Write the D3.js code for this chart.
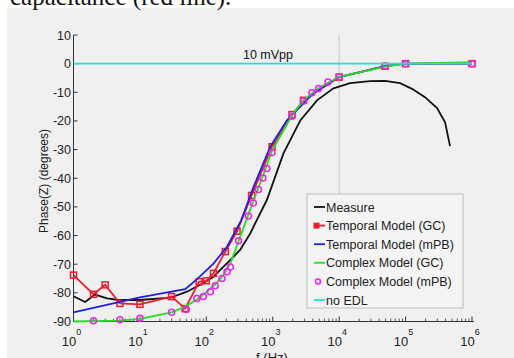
<!DOCTYPE html>
<html><head><meta charset="utf-8">
<script src="https://cdn.jsdelivr.net/npm/d3@7"></script>
<style>html,body{margin:0;padding:0;background:#fff;}svg{display:block;}</style>
</head><body>
<svg id="c" width="514" height="358"></svg>
<script>
// ---- data ----
const measureF = [1,1.5,2.1,3.2,4.8,10,29,51,81,127,162,254,322,460,575,815,1450,2600,4640,8200,14600,29200,49000,82600,125000,196000,298000,393000,467000];
const measureP = [-81.2,-83.2,-80.6,-81.9,-82.5,-82.5,-81.7,-79.6,-77.2,-74.5,-72,-67.5,-65,-59.2,-54.6,-47.6,-31.3,-19.8,-12.8,-8.6,-6.8,-6.1,-6.0,-6.8,-8.8,-11.7,-15.5,-20.5,-28.8];
const tempGCF = [1,2,3,5,10,30,48,78,100,128,193,290,480,975,1950,2900,10000,49000,100000,1000000];
const tempGCP = [-73.8,-80.5,-77.2,-83.7,-84,-81.3,-85.5,-76.1,-75.8,-73.2,-65.6,-58.5,-46,-29,-17.8,-12.8,-4.7,-0.9,0,0];
const tempPBF = [1,10,48,72,129,205,336,514,917,1636,4060,9660,49200,100000,1000000];
const tempPBP = [-86.8,-81.6,-78.7,-75.3,-69.7,-63.9,-54.6,-43,-29,-19.8,-10.4,-4.8,-0.9,0,0];
const compGCF = [1,5,10,30,48,72,100,136,172,228,305,410,510,690,975,1950,2900,4900,10000,49000,100000,1000000];
const compGCP = [-90,-89.7,-89.1,-86.8,-84.8,-82.3,-79.8,-77,-74.5,-70,-62,-54,-48,-40,-30.5,-18,-12.8,-8.5,-4.6,-1.0,0,0.5];
const compPBF = [2,5,10,30,50,72,90,115,136,172,205,230,305,430,510,610,710,815,975,1950,2900,3900,4900,6800,10000,49000,100000,1000000];
const compPBP = [-89.7,-89.4,-88.9,-86.8,-85.8,-82,-81.3,-79.6,-77.5,-75,-72.6,-71,-61.8,-53.2,-48.6,-43.9,-39.9,-36.6,-31,-18.4,-13,-10.2,-8.7,-6.4,-4.7,-0.9,0,0];
const noEdlF = [1,1000000];
const noEdlP = [0,0];
const xDecades = [0,1,2,3,4,5,6];
const yTicks = [10,0,-10,-20,-30,-40,-50,-60,-70,-80,-90];
const legendLabels = ["Measure","Temporal Model (GC)","Temporal Model (mPB)","Complex Model (GC)","Complex Model (mPB)","no EDL"];

// ---- drawing ----
const svg = d3.select("#c");
const font = "'Liberation Sans', Arial, sans-serif";
svg.append("rect").attr("x",7).attr("y",8).attr("width",507).attr("height",350).attr("fill","#f0f0f0");
svg.append("text").attr("x",10).attr("y",5).attr("font-family","'Liberation Serif', serif").attr("font-size",25).attr("fill","#111").text("capacitance (red line).");

const x = d3.scaleLog().domain([1,1e6]).range([73.5,472]);
const y = d3.scaleLinear().domain([-90,10]).range([321.5,35]);

// faint vertical line at 1e4
svg.append("line").attr("x1",x(1e4)).attr("x2",x(1e4)).attr("y1",y(10)).attr("y2",194).attr("stroke","#c8c8c8").attr("stroke-width",1);

// axes
const axisColor = "#333";
svg.append("line").attr("x1",x(1)).attr("x2",x(1)).attr("y1",y(10)).attr("y2",y(-90)).attr("stroke",axisColor);
svg.append("line").attr("x1",x(1)).attr("x2",474).attr("y1",y(-90)).attr("y2",y(-90)).attr("stroke",axisColor);
svg.selectAll(".yt").data(yTicks).enter().append("line")
  .attr("x1",x(1)).attr("x2",x(1)+4).attr("y1",d=>y(d)).attr("y2",d=>y(d)).attr("stroke",axisColor);
svg.selectAll(".yl").data(yTicks).enter().append("text")
  .attr("x",71).attr("y",d=>y(d)+4.5).attr("text-anchor","end").attr("font-family",font).attr("font-size",12.5).attr("fill","#222").text(d=>d);
const minor = [];
xDecades.slice(0,-1).forEach(e=>{for(let m=2;m<10;m++) minor.push(m*Math.pow(10,e));});
svg.selectAll(".xm").data(minor).enter().append("line")
  .attr("x1",d=>x(d)).attr("x2",d=>x(d)).attr("y1",y(-90)).attr("y2",y(-90)-3).attr("stroke",axisColor).attr("stroke-width",0.8);
svg.selectAll(".xt").data(xDecades).enter().append("line")
  .attr("x1",d=>x(Math.pow(10,d))).attr("x2",d=>x(Math.pow(10,d))).attr("y1",y(-90)).attr("y2",y(-90)-5).attr("stroke",axisColor);
const xl = svg.selectAll(".xl").data(xDecades).enter().append("text")
  .attr("x",d=>x(Math.pow(10,d))-2).attr("y",346).attr("text-anchor","middle").attr("font-family",font).attr("font-size",13).attr("fill","#222");
xl.append("tspan").text("10");
xl.append("tspan").attr("dy",-11).attr("font-size",9).text(d=>d);

svg.append("text").attr("transform","translate(48,181) rotate(-90)").attr("text-anchor","middle").attr("font-family",font).attr("font-size",12).attr("fill","#222").text("Phase(Z) (degrees)");
svg.append("text").attr("x",272).attr("y",362).attr("text-anchor","middle").attr("font-family",font).attr("font-size",13).attr("fill","#222").text("f (Hz)");
svg.append("text").attr("x",268).attr("y",59).attr("text-anchor","middle").attr("font-family",font).attr("font-size",12.5).attr("fill","#111").text("10 mVpp");

const line = d3.line().x(d=>x(d[0])).y(d=>y(d[1]));
const zip = (a,b)=>a.map((v,i)=>[v,b[i]]);
const series = [
  {f:measureF,p:measureP,c:"#111111"},
  {f:tempGCF,p:tempGCP,c:"#ee1c2e",m:"sq"},
  {f:tempPBF,p:tempPBP,c:"#1f1fe0"},
  {f:compGCF,p:compGCP,c:"#22e022"},
  {f:compPBF,p:compPBP,c:"#ee22ee",m:"ci",noline:true},
  {f:noEdlF,p:noEdlP,c:"#1fe0e0"}
];
series.forEach(s=>{
  const pts = zip(s.f,s.p);
  if(!s.noline) svg.append("path").attr("d",line(pts)).attr("fill","none").attr("stroke",s.c).attr("stroke-width",1.8);
  if(s.m==="sq") svg.selectAll(null).data(pts).enter().append("rect")
    .attr("x",d=>x(d[0])-3).attr("y",d=>y(d[1])-3).attr("width",6).attr("height",6).attr("fill","none").attr("stroke",s.c).attr("stroke-width",1.5);
  if(s.m==="ci") svg.selectAll(null).data(pts).enter().append("circle")
    .attr("cx",d=>x(d[0])).attr("cy",d=>y(d[1])).attr("r",3).attr("fill","none").attr("stroke",s.c).attr("stroke-width",1.5);
});

// legend
const lg = svg.append("g");
lg.append("rect").attr("x",307).attr("y",194).attr("width",156).attr("height",114).attr("fill","#f4f4f4").attr("stroke","#bdbdbd");
legendLabels.forEach((t,i)=>{
  const yy = 207 + i*18.6;
  const s = series[i];
  if(!s.noline) lg.append("line").attr("x1",314).attr("x2",325).attr("y1",yy).attr("y2",yy).attr("stroke",s.c).attr("stroke-width",1.8);
  if(s.m==="sq") lg.append("rect").attr("x",314).attr("y",yy-2.5).attr("width",5).attr("height",5).attr("fill",s.c).attr("stroke",s.c);
  if(s.m==="ci") lg.append("circle").attr("cx",318).attr("cy",yy).attr("r",2.5).attr("fill","none").attr("stroke",s.c).attr("stroke-width",1.5);
  lg.append("text").attr("x",326).attr("y",yy+4.5).attr("font-family",font).attr("font-size",12.5).attr("fill","#222").text(t);
});
</script>
</body></html>
